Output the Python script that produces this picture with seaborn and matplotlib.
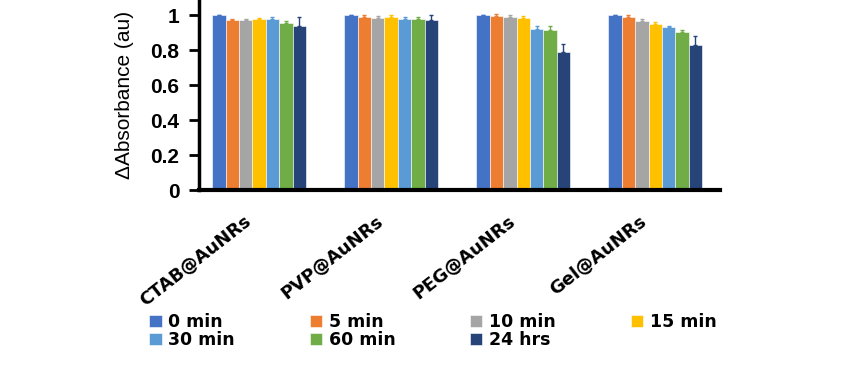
import pandas as pd
import seaborn as sns
import matplotlib.pyplot as plt
from matplotlib.transforms import ScaledTranslation

samples = ['CTAB@AuNRs', 'PVP@AuNRs', 'PEG@AuNRs', 'Gel@AuNRs']
times = ['0 min', '5 min', '10 min', '15 min', '30 min', '60 min', '24 hrs']

# absorbance ratio per time point, one value per sample
t0 = [1.00, 1.00, 1.00, 1.00]
t5 = [0.97, 0.99, 0.995, 0.99]
t10 = [0.97, 0.985, 0.99, 0.965]
t15 = [0.975, 0.99, 0.985, 0.95]
t30 = [0.98, 0.98, 0.92, 0.93]
t60 = [0.955, 0.98, 0.915, 0.905]
t24h = [0.94, 0.97, 0.79, 0.83]

e0 = [0.0, 0.0, 0.0, 0.0]
e5 = [0.01, 0.01, 0.01, 0.01]
e10 = [0.01, 0.01, 0.01, 0.01]
e15 = [0.01, 0.01, 0.01, 0.01]
e30 = [0.01, 0.01, 0.02, 0.01]
e60 = [0.01, 0.01, 0.02, 0.01]
e24h = [0.05, 0.03, 0.045, 0.05]

colors = ['#4472C4', '#ED7D31', '#A5A5A5', '#FFC000', '#5B9BD5', '#70AD47', '#264478']

values = [t0, t5, t10, t15, t30, t60, t24h]
errors = [e0, e5, e10, e15, e30, e60, e24h]

rows = []
for t, vals in zip(times, values):
    for s, v in zip(samples, vals):
        rows.append({'Sample': s, 'Time': t, 'Absorbance': v})
df = pd.DataFrame(rows)

sns.set_style('white')
plt.rcParams['font.family'] = ['Liberation Sans', 'DejaVu Sans']
plt.rcParams['text.color'] = 'black'
plt.rcParams['axes.labelcolor'] = 'black'
plt.rcParams['xtick.color'] = 'black'
plt.rcParams['ytick.color'] = 'black'

fig = plt.figure(figsize=(8.66, 3.78), dpi=100)
ax = fig.add_axes([199 / 866, 0.497, 521 / 866, 0.503])

sns.barplot(data=df, x='Sample', y='Absorbance', hue='Time', order=samples,
            hue_order=times, palette=colors, saturation=1, width=0.71,
            errorbar=None, edgecolor='white', linewidth=0.4, ax=ax)

for cont, err, col in zip(ax.containers, errors, colors):
    xs = [p.get_x() + p.get_width() / 2 for p in cont.patches]
    ys = [p.get_height() for p in cont.patches]
    ax.errorbar(xs, ys, yerr=[[0] * len(err), err], fmt='none',
                ecolor=col, elinewidth=1, capsize=1.5)

ax.set_xlim(-0.455, 3.49)
ax.set_ylim(0, 1.086)
ax.set_xlabel('')
ax.set_ylabel('ΔAbsorbance (au)', fontsize=15, labelpad=12)
ax.tick_params(axis='y', length=7, width=2, direction='out', left=True, pad=7)
ax.tick_params(axis='x', length=0, pad=16)
ax.set_yticks([0, 0.2, 0.4, 0.6, 0.8, 1])
ax.set_yticklabels(['0', '0.2', '0.4', '0.6', '0.8', '1'], fontsize=15, fontweight='bold')
ax.set_xticks(range(len(samples)))
ax.set_xticklabels(samples, rotation=38, ha='right', va='top', rotation_mode='anchor',
                   fontsize=13, fontweight='bold', family='DejaVu Sans')
shift = ScaledTranslation(-16 / 100, 0, fig.dpi_scale_trans)
for lab in ax.get_xticklabels():
    lab.set_transform(lab.get_transform() + shift)
for side in ['top', 'right']:
    ax.spines[side].set_visible(False)
ax.spines['left'].set_linewidth(2.5)
ax.spines['bottom'].set_linewidth(3)
ax.spines['left'].set_color('black')
ax.spines['bottom'].set_color('black')

handles, labels = ax.get_legend_handles_labels()
ax.get_legend().remove()
order = [0, 4, 1, 5, 2, 6, 3]
fig.legend([handles[i] for i in order], [labels[i] for i in order],
           loc='center', bbox_to_anchor=(0.500, 0.124), ncol=4,
           frameon=False, handlelength=0.7, handleheight=0.7, handletextpad=0.4,
           columnspacing=4.3, labelspacing=0.0,
           prop={'weight': 'bold', 'size': 12.5, 'family': 'DejaVu Sans'})

fig.savefig('out.png', dpi=100)
